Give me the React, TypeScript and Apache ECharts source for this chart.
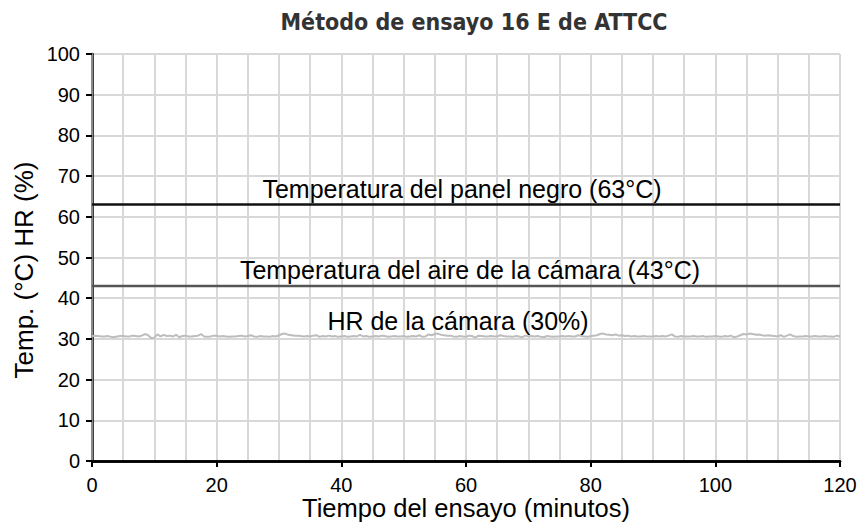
import React, { useEffect, useRef } from "react";
import * as echarts from "echarts";

const titleText = "Método de ensayo 16 E de ATTCC";
const xAxisName = "Tiempo del ensayo (minutos)";
const yAxisName = "Temp. (°C) HR (%)";

// constant lines (minutes, value)
const constMinutes = [0, 60, 120];
const panelValues = [63, 63, 63];
const airValues = [43, 43, 43];

// relative humidity readings, one per half minute (0..120)
const hrValues = [
  30.7, 30.8, 30.7, 30.6, 30.6, 30.7, 30.5, 30.4, 30.6, 30.7,
  30.7, 30.6, 30.6, 30.8, 30.7, 30.6, 30.8, 31.2, 30.9, 30.2,
  30.3, 31.1, 30.6, 31.0, 30.7, 30.8, 30.6, 31.0, 30.4, 30.7,
  30.8, 30.6, 30.6, 30.7, 30.8, 31.2, 30.6, 30.5, 30.6, 30.8,
  30.8, 30.6, 30.7, 30.6, 30.5, 30.6, 30.6, 30.7, 30.8, 30.6,
  30.7, 30.9, 30.6, 30.5, 30.7, 30.6, 30.6, 30.5, 30.7, 30.6,
  30.9, 31.2, 31.3, 31.0, 30.9, 30.8, 30.8, 30.7, 30.6, 30.7,
  30.6, 30.8, 30.9, 30.5, 30.7, 30.6, 30.8, 30.6, 30.7, 30.5,
  30.6, 30.7, 30.5, 30.6, 30.7, 30.6, 31.0, 30.6, 30.7, 30.5,
  30.6, 30.7, 30.6, 30.8, 30.7, 30.5, 30.6, 30.7, 30.6, 30.6,
  30.7, 30.5, 30.6, 30.7, 30.6, 30.9, 30.5, 30.6, 31.1, 30.9,
  31.2, 31.3, 31.0, 30.9, 30.8, 30.8, 30.6, 30.5, 30.7, 30.6,
  30.5, 30.8, 30.7, 30.3, 30.8, 30.7, 30.6, 30.6, 30.7, 30.6,
  30.6, 30.9, 30.7, 30.6, 30.6, 30.5, 30.7, 30.6, 30.4, 30.8,
  30.6, 30.7, 30.6, 30.7, 30.5, 30.4, 30.7, 30.6, 30.5, 30.6,
  30.6, 30.7, 30.6, 30.7, 30.6, 30.6, 30.9, 30.7, 30.6, 30.5,
  30.7, 30.8, 30.9, 31.2, 31.3, 31.1, 31.0, 30.9, 31.1, 30.8,
  30.9, 30.7, 30.8, 30.6, 30.7, 30.6, 30.6, 30.7, 30.6, 30.6,
  30.6, 30.7, 30.6, 30.7, 30.6, 30.8, 31.1, 30.6, 30.5, 30.7,
  30.6, 30.6, 30.6, 30.7, 30.6, 30.6, 30.7, 30.5, 30.6, 30.6,
  30.7, 30.6, 30.5, 30.7, 30.6, 30.8, 30.4, 30.6, 30.9, 31.2,
  31.1, 31.3, 31.2, 31.0, 31.1, 30.9, 30.8, 30.9, 30.8, 30.7,
  30.6, 30.9, 30.5, 30.8, 31.1, 30.7, 30.5, 30.6, 30.6, 30.7,
  30.6, 30.6, 30.7, 30.6, 30.6, 30.7, 30.6, 30.6, 30.5, 30.8,
  30.6,
];
const hrStep = 0.5;

const lineLabels = [
  "Temperatura del panel negro (63°C)",
  "Temperatura del aire de la cámara (43°C)",
  "HR de la cámara (30%)",
];
const labelIndexConst = 1;
const labelIndexHr = 120;

const FONT = "'Liberation Sans', Arial, Helvetica, sans-serif";

export default function App() {
  const ref = useRef<HTMLDivElement>(null);

  useEffect(() => {
    if (!ref.current) return;
    const chart = echarts.init(ref.current, undefined, { renderer: "svg" });

    const gridColor = "#d8d8d8";

    const labelStyle = (text: string, offX: number) => ({
      show: true,
      position: "top",
      distance: 3,
      offset: [offX, 0],
      formatter: text,
      fontSize: 25,
      color: "#000",
      fontFamily: FONT,
    });

    const mkConst = (vals: number[], labelText: string, offX: number) =>
      constMinutes.map((m, i) =>
        i === labelIndexConst
          ? { value: [m, vals[i]], label: labelStyle(labelText, offX) }
          : { value: [m, vals[i]] }
      );

    const hrData = hrValues.map((v, i) =>
      i === labelIndexHr
        ? { value: [i * hrStep, v], label: labelStyle(lineLabels[2], -8) }
        : { value: [i * hrStep, v] }
    );

    chart.setOption({
      animation: false,
      textStyle: { fontFamily: FONT },
      graphic: [
        {
          type: "text",
          x: 474,
          y: 22,
          style: {
            text: titleText,
            fontFamily: "'DejaVu Sans Condensed', 'Liberation Sans Narrow', 'Liberation Sans', sans-serif",
            fontWeight: "bold",
            fontSize: 23,
            fill: "#333",
            align: "center",
            verticalAlign: "middle",
            textAlign: "center",
            textVerticalAlign: "middle",
          },
        },
      ],
      grid: {
        left: 92,
        right: 23,
        top: 54,
        bottom: 64,
        containLabel: false,
        outerBoundsMode: "none",
      },
      xAxis: [
        {
          type: "value",
          min: 0,
          max: 120,
          interval: 20,
          position: "bottom",
          name: xAxisName,
          nameLocation: "middle",
          nameGap: 34,
          nameMoveOverlap: false,
          nameTextStyle: { fontSize: 25.5, color: "#000", fontFamily: FONT },
          axisLine: { show: true, lineStyle: { color: "#000", width: 2.5 } },
          axisTick: { show: true, length: 6, lineStyle: { color: "#000", width: 2 } },
          axisLabel: { fontSize: 20, color: "#000", margin: 14, fontFamily: FONT },
          splitLine: { show: true, lineStyle: { color: gridColor, width: 2 } },
          minorTick: { show: false, splitNumber: 4 },
          minorSplitLine: { show: true, lineStyle: { color: gridColor, width: 2 } },
        },
        {
          type: "value",
          min: 0,
          max: 120,
          position: "top",
          axisLine: { show: true, lineStyle: { color: "#000", width: 2.5 } },
          axisTick: { show: false },
          axisLabel: { show: false },
          splitLine: { show: false },
        },
      ],
      yAxis: [
        {
          type: "value",
          min: 0,
          max: 100,
          interval: 10,
          position: "left",
          name: yAxisName,
          nameLocation: "middle",
          nameGap: 55,
          nameMoveOverlap: false,
          nameTextStyle: {
            fontSize: 26,
            color: "#000",
            fontFamily: FONT,
            padding: [0, 25, 0, 0],
          },
          axisLine: { show: true, lineStyle: { color: "#000", width: 2.5 } },
          axisTick: { show: true, length: 6, lineStyle: { color: "#000", width: 2 } },
          axisLabel: { fontSize: 20, color: "#000", margin: 12, fontFamily: FONT },
          splitLine: { show: true, lineStyle: { color: gridColor, width: 2 } },
        },
        {
          type: "value",
          min: 0,
          max: 100,
          position: "right",
          axisLine: { show: true, lineStyle: { color: "#8a8a8a", width: 2 } },
          axisTick: { show: false },
          axisLabel: { show: false },
          splitLine: { show: false },
        },
      ],
      series: [
        {
          type: "line",
          xAxisIndex: 0,
          yAxisIndex: 0,
          data: hrData,
          symbol: "circle",
          symbolSize: 0,
          showSymbol: true,
          lineStyle: { color: "#bdbdbd", width: 2 },
          itemStyle: { color: "#bdbdbd" },
          z: 3,
        },
        {
          type: "line",
          xAxisIndex: 0,
          yAxisIndex: 0,
          data: mkConst(airValues, lineLabels[1], 4),
          symbol: "circle",
          symbolSize: 0,
          showSymbol: true,
          lineStyle: { color: "#555", width: 2.5 },
          itemStyle: { color: "#555" },
          z: 4,
        },
        {
          type: "line",
          xAxisIndex: 0,
          yAxisIndex: 0,
          data: mkConst(panelValues, lineLabels[0], -4),
          symbol: "circle",
          symbolSize: 0,
          showSymbol: true,
          lineStyle: { color: "#111", width: 2.5 },
          itemStyle: { color: "#111" },
          z: 5,
        },
      ],
    });

    return () => chart.dispose();
  }, []);

  return (
    <div
      ref={ref}
      style={{ position: "fixed", left: 0, top: 0, width: 863, height: 525, background: "#fff" }}
    />
  );
}
